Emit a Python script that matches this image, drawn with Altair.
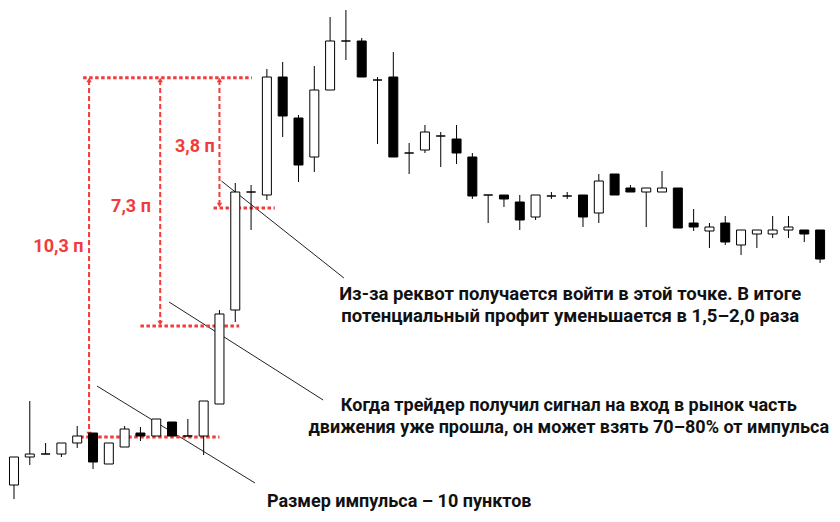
import altair as alt
import pandas as pd

# Candles (price in ticks; higher = up)
idx = list(range(52))
opens = [35, 63, 66, 66, 77, 87, 56, 73, 87, 84, 98, 84, 84, 116, 210, 328, 325, 443, 402, 363,
         430, 479, 479, 440, 443, 367, 370, 384, 381, 363, 325, 325, 318, 303, 324, 324, 325, 307,
         346, 332, 328, 328, 332, 297, 289, 297, 275, 286, 286, 290, 290, 290]
highs = [63, 119, 77, 77, 94, 87, 77, 94, 93, 101, 98, 101, 119, 210, 337, 335, 451, 458, 405, 454,
         503, 510, 482, 443, 468, 377, 395, 388, 395, 367, 325, 325, 325, 325, 328, 328, 325, 346,
         346, 335, 332, 349, 332, 311, 297, 304, 290, 290, 304, 304, 290, 290]
lows = [21, 55, 66, 63, 72, 51, 56, 73, 79, 84, 84, 84, 65, 116, 198, 290, 320, 383, 338, 348,
        430, 460, 443, 376, 363, 346, 367, 353, 356, 321, 297, 313, 290, 300, 321, 321, 293, 297,
        325, 328, 293, 328, 292, 289, 272, 275, 265, 272, 282, 282, 278, 257]
closes = [63, 66, 66, 77, 84, 58, 77, 91, 84, 101, 84, 84, 119, 206, 328, 328, 443, 404, 355, 430,
          479, 479, 443, 440, 363, 367, 388, 384, 367, 324, 325, 321, 300, 325, 324, 324, 303, 339,
          325, 328, 332, 332, 292, 293, 293, 278, 290, 290, 290, 293, 286, 261]

# Annotation texts
measure_labels = ["10,3 п", "7,3 п", "3,8 п"]
note_lines = [
    "Из-за реквот получается войти в этой точке. В итоге",
    "потенциальный профит уменьшается в 1,5–2,0 раза",
    "Когда трейдер получил сигнал на вход в рынок часть",
    "движения уже прошла, он может взять 70–80% от импульса",
    "Размер импульса – 10 пунктов",
]

candles = pd.DataFrame({"i": idx, "open": opens, "high": highs, "low": lows, "close": closes})

XD = [-0.0625, 51.4375]
YD = [6, 512]
RED = "#f23b3b"
FONT = "Roboto"


def X(f):
    return alt.X(f, type="quantitative", scale=alt.Scale(domain=XD, nice=False, zero=False), axis=None)


def Y(f):
    return alt.Y(f, type="quantitative", scale=alt.Scale(domain=YD, nice=False, zero=False), axis=None)


wicks = alt.Chart(candles).mark_rule(color="black", strokeWidth=1).encode(
    x=X("i"), y=Y("low"), y2=alt.Y2("high")
)
bodies = alt.Chart(candles).mark_bar(size=9, stroke="black", strokeWidth=1).encode(
    x=X("i"), y=Y("open"), y2=alt.Y2("close"),
    fill=alt.condition("datum.close >= datum.open", alt.value("white"), alt.value("black")),
)

# red dotted levels
levels = pd.DataFrame({
    "x": [4.375, 12.625, 8.0, 4.19],
    "x2": [15.06, 16.5, 14.25, 13.0],
    "y": [442.3, 312, 194, 83],
})
level_rules = alt.Chart(levels).mark_rule(color=RED, strokeWidth=3, strokeDash=[3.5, 2.5]).encode(
    x=X("x"), x2=alt.X2("x2"), y=Y("y")
)

# vertical arrows
arrows = pd.DataFrame({
    "x": [4.75, 9.25, 13.0],
    "top": [440, 440, 440],
    "bot": [86, 197, 315],
})
arrow_rules = alt.Chart(arrows).mark_rule(color=RED, strokeWidth=2, strokeDash=[5, 3]).encode(
    x=X("x"), y=Y("top"), y2=alt.Y2("bot")
)
heads_up = alt.Chart(arrows).mark_point(shape="triangle-up", filled=True, color=RED, size=30, opacity=1).encode(
    x=X("x"), y=Y("top")
)
heads_down = alt.Chart(arrows).mark_point(shape="triangle-down", filled=True, color=RED, size=30, opacity=1).encode(
    x=X("x"), y=Y("bot")
)

labels = pd.DataFrame({
    "x": [2.81, 7.4, 11.44],
    "y": [268, 308, 368],
    "t": measure_labels,
})
label_text = alt.Chart(labels).mark_text(
    font=FONT, fontSize=18, fontWeight="bold", color=RED, align="center", baseline="alphabetic"
).encode(x=X("x"), y=Y("y"), text="t:N")

# leader lines
leaders = pd.DataFrame({
    "x": [13.125, 9.81, 5.25],
    "x2": [20.875, 19.56, 15.25],
    "y": [339, 218, 134],
    "y2": [242, 120, 37],
})
leader_rules = alt.Chart(leaders).mark_rule(color="#222", strokeWidth=1).encode(
    x=X("x"), x2=alt.X2("x2"), y=Y("y"), y2=alt.Y2("y2")
)

notes = pd.DataFrame({
    "x": [35.19, 35.19, 35.1, 35.1, 16.0],
    "y": [220, 198, 109, 87, 13],
    "t": note_lines,
    "a": ["center", "center", "center", "center", "left"],
    "s": [18.5, 18.5, 18, 18, 18],
})
notes_c = alt.Chart(notes[notes.a == "center"]).mark_text(
    font=FONT, fontWeight="bold", color="#111", align="center", baseline="alphabetic"
).encode(x=X("x"), y=Y("y"), text="t:N", size=alt.Size("s:Q", scale=None, legend=None))
notes_l = alt.Chart(notes[notes.a == "left"]).mark_text(
    font=FONT, fontSize=18, fontWeight="bold", color="#111", align="left", baseline="alphabetic"
).encode(x=X("x"), y=Y("y"), text="t:N")

chart = alt.layer(
    leader_rules, level_rules, arrow_rules, heads_up, heads_down,
    wicks, bodies, label_text, notes_c, notes_l
).properties(
    width=824, height=506, padding=0, autosize=alt.AutoSizeParams(type="none"),
    background="white",
).configure_view(stroke=None)

chart.save("out.html", embed_options={"renderer": "svg", "actions": False})
